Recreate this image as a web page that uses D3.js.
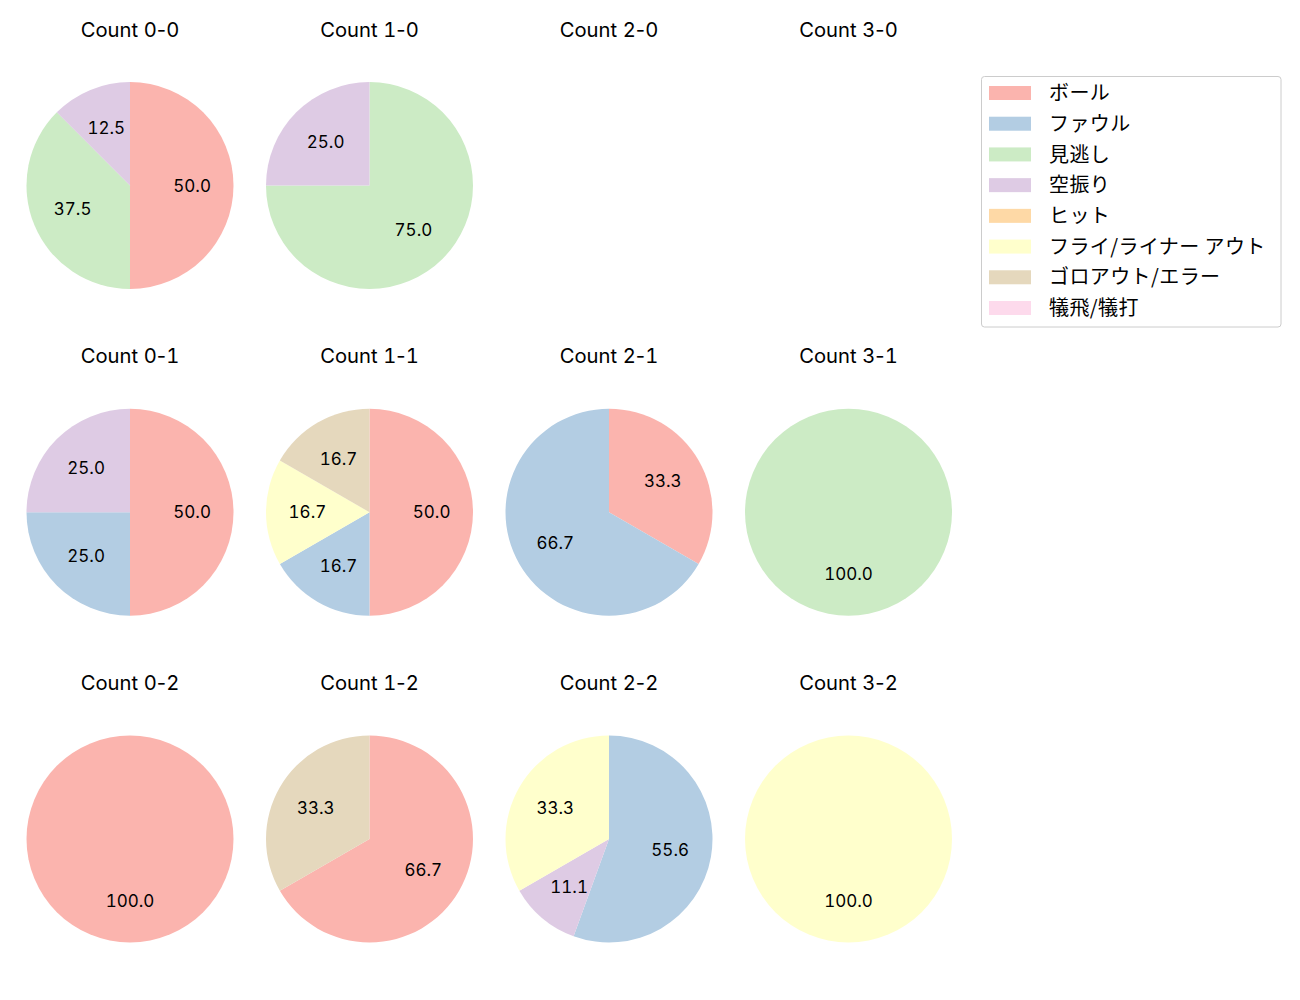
<!DOCTYPE html>
<html><head><meta charset="utf-8">
<script src="https://cdn.jsdelivr.net/npm/d3@7"></script>
<style>body{margin:0;background:#fff}svg{display:block}text{font-family:"Noto Sans CJK JP","Noto Sans",sans-serif}text.lat{font-family:Inter,"Noto Sans CJK JP",sans-serif}.num{font-variant-numeric:tabular-nums}</style>
</head><body><svg id="c" width="1300" height="1000"></svg>
<script>
const categories = ["ボール","ファウル","見逃し","空振り","ヒット","フライ/ライナー アウト","ゴロアウト/エラー","犠飛/犠打"];
const colors = ["#fbb4ae","#b3cde3","#ccebc5","#decbe4","#fed9a6","#ffffcc","#e5d8bd","#fddaec"];
const counts = ["0-0","1-0","2-0","3-0","0-1","1-1","2-1","3-1","0-2","1-2","2-2","3-2"];
// values per category, in the order of categories
const v00 = [4,0,3,1,0,0,0,0];
const v10 = [0,0,3,1,0,0,0,0];
const v20 = [0,0,0,0,0,0,0,0];
const v30 = [0,0,0,0,0,0,0,0];
const v01 = [2,1,0,1,0,0,0,0];
const v11 = [3,1,0,0,0,1,1,0];
const v21 = [1,2,0,0,0,0,0,0];
const v31 = [0,0,1,0,0,0,0,0];
const v02 = [1,0,0,0,0,0,0,0];
const v12 = [2,0,0,0,0,0,1,0];
const v22 = [0,5,0,1,0,3,0,0];
const v32 = [0,0,0,0,0,1,0,0];
const values = [v00,v10,v20,v30,v01,v11,v21,v31,v02,v12,v22,v32];

const svg = d3.select("#c");
const colX = d3.scaleLinear().domain([0,3]).range([130,848.5]);
const rowY = d3.scaleLinear().domain([0,2]).range([185.5,839]);
const R = 103.5;
const pie = d3.pie().sort(null).value(d=>d.v).startAngle(0).endAngle(2*Math.PI);
const arc = d3.arc().innerRadius(0).outerRadius(R);
const labelArc = d3.arc().innerRadius(R*0.6).outerRadius(R*0.6);

counts.forEach((c,i)=>{
  const col = i%4, row = Math.floor(i/4);
  const cx = colX(col), cy = rowY(row);
  const t = svg.append("text").attr("class","lat").attr("x",cx).attr("y",cy-149).attr("text-anchor","middle")
    .attr("font-size",20.2).attr("fill","#000");
  const [b,s] = c.split("-");
  t.append("tspan").text("Count ");
  t.append("tspan").attr("class","num").text(b);
  t.append("tspan").text("-");
  t.append("tspan").attr("class","num").text(s);
  const data = values[i].map((v,k)=>({v,k})).filter(d=>d.v>0);
  const total = d3.sum(data,d=>d.v);
  if(total===0) return;
  const g = svg.append("g").attr("transform",`translate(${cx},${cy})`);
  const arcs = pie(data);
  g.selectAll("path").data(arcs).join("path").attr("d",arc).attr("fill",d=>colors[d.data.k]);
  g.selectAll("text").data(arcs).join("text").attr("class","lat num")
    .attr("transform",d=>{const [x,y]=labelArc.centroid(d);return `translate(${x},${y})`;})
    .attr("text-anchor","middle").attr("dy","0.36em")
    .attr("font-size",17).attr("fill","#000")
    .text(d=>(d.data.v/total*100).toFixed(1));
});

// legend
const lg = svg.append("g");
lg.append("rect").attr("x",981.5).attr("y",76.5).attr("width",299.5).attr("height",250.5).attr("rx",3)
  .attr("fill","#fff").attr("stroke","#cccccc");
const ly = d3.scaleLinear().domain([0,7]).range([93,308]);
categories.forEach((c,k)=>{
  lg.append("rect").attr("x",989).attr("y",ly(k)-7).attr("width",42).attr("height",14).attr("fill",colors[k]);
  lg.append("text").attr("x",1049).attr("y",ly(k)).attr("dy","0.36em")
    .attr("font-size",20).attr("letter-spacing",0.4).attr("fill","#000").text(c);
});
</script></body></html>
